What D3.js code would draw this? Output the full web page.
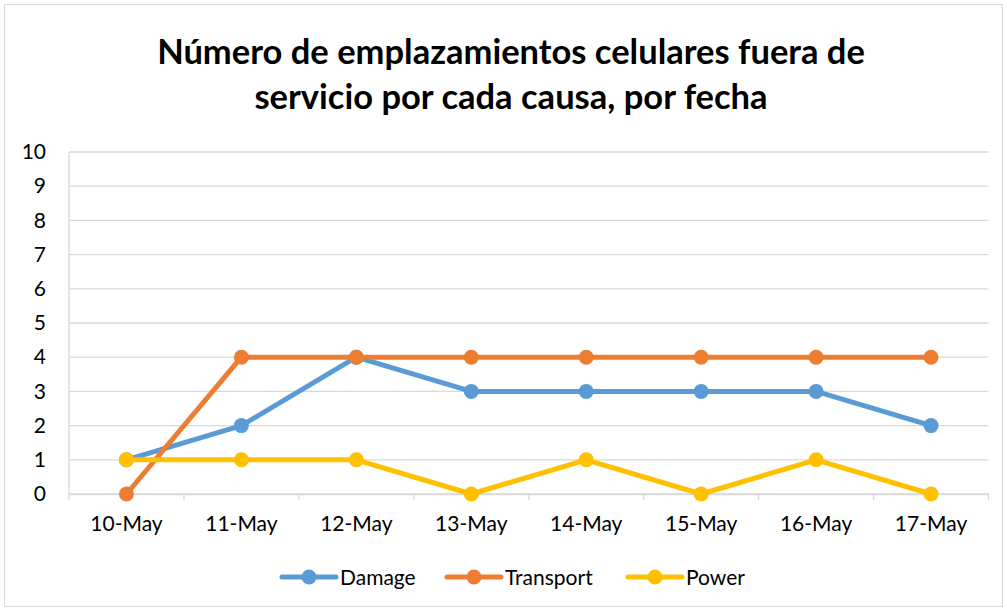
<!DOCTYPE html>
<html><head><meta charset="utf-8">
<script src="https://cdn.jsdelivr.net/npm/d3@7/dist/d3.min.js"></script>
<style>body{margin:0;background:#fff}</style>
</head><body>
<script>
const categories = ["10-May","11-May","12-May","13-May","14-May","15-May","16-May","17-May"];
const seriesNames = ["Damage","Transport","Power"];
const damage = [1,2,4,3,3,3,3,2];
const transport = [0,4,4,4,4,4,4,4];
const power = [1,1,1,0,1,0,1,0];
const yTicks = [0,1,2,3,4,5,6,7,8,9,10];
const colors = ["#5B9BD5","#ED7D31","#FFC000"];
const titleLines = ["Número de emplazamientos celulares fuera de","servicio por cada causa, por fecha"];

(function(){
const W=1007,H=611;
const svg=d3.select("body").append("svg").attr("width",W).attr("height",H);
svg.append("rect").attr("x",4.5).attr("y",4.5).attr("width",W-9).attr("height",H-9)
  .attr("fill","#fff").attr("stroke","#D9D9D9").attr("stroke-width",1);

const font="Lato, 'Open Sans', sans-serif";
svg.selectAll(".title").data(titleLines).join("text")
  .attr("x",511).attr("y",(d,i)=>64+i*45).attr("text-anchor","middle")
  .attr("font-family",font).attr("font-weight","bold").attr("font-size",34.5).attr("fill","#000")
  .text(d=>d);

const pl=69,pr=988.5,pt=152,pb=494;
const x=d3.scaleBand().domain(categories).range([pl,pr]);
const y=d3.scaleLinear().domain([0,10]).range([pb,pt]);

const g=svg.append("g");
g.selectAll(".grid").data(yTicks).join("line")
  .attr("x1",pl).attr("x2",pr).attr("y1",d=>y(d)).attr("y2",d=>y(d))
  .attr("stroke","#D9D9D9").attr("stroke-width",1.3);
g.append("line").attr("x1",pl).attr("x2",pl).attr("y1",pt).attr("y2",pb)
  .attr("stroke","#D9D9D9").attr("stroke-width",1.3);

const xAxis=svg.append("g").attr("transform",`translate(0,${pb})`)
  .call(d3.axisBottom(x).tickSize(0).tickPadding(22));
xAxis.select(".domain").attr("stroke","#D9D9D9").attr("stroke-width",1.3);
xAxis.selectAll("text").attr("font-family",font).attr("font-size",21).attr("fill","#000");
const bounds=categories.map(c=>x(c)).concat([pr]);
xAxis.selectAll(".sep").data(bounds).join("line").attr("class","sep")
  .attr("x1",d=>d).attr("x2",d=>d).attr("y1",0).attr("y2",6)
  .attr("stroke","#D9D9D9").attr("stroke-width",1.3);

const yAxis=svg.append("g").attr("transform",`translate(${pl},0)`)
  .call(d3.axisLeft(y).tickValues(yTicks).tickSize(0).tickPadding(23));
yAxis.select(".domain").remove();
yAxis.selectAll("text").attr("font-family",font).attr("font-size",21).attr("fill","#000");

const data=[damage,transport,power];
const cx=c=>x(c)+x.bandwidth()/2;
const line=d3.line().x((d,i)=>cx(categories[i])).y(d=>y(d));
data.forEach((s,k)=>{
  const sg=svg.append("g");
  sg.append("path").datum(s).attr("d",line).attr("fill","none")
    .attr("stroke",colors[k]).attr("stroke-width",5).attr("stroke-linejoin","round");
  sg.selectAll("circle").data(s).join("circle")
    .attr("cx",(d,i)=>cx(categories[i])).attr("cy",d=>y(d)).attr("r",7.5).attr("fill",colors[k]);
});

const legX=[282,447,628];
const lg=svg.append("g");
seriesNames.forEach((n,k)=>{
  const gg=lg.append("g").attr("transform",`translate(${legX[k]},577)`);
  gg.append("line").attr("x1",0).attr("x2",54).attr("stroke",colors[k]).attr("stroke-width",5).attr("stroke-linecap","round");
  gg.append("circle").attr("cx",27).attr("r",7.5).attr("fill",colors[k]);
  gg.append("text").attr("x",58).attr("y",8).attr("font-family",font).attr("font-size",21).attr("fill","#000").text(n);
});
})();
</script>
</body></html>
